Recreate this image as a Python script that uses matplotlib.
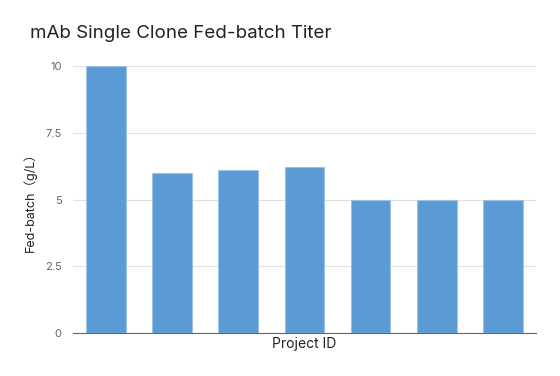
import matplotlib
matplotlib.use('Agg')
import matplotlib.pyplot as plt
import numpy as np

plt.rcParams['font.family'] = ['Inter', 'Noto Sans CJK SC', 'DejaVu Sans']

projects = ['P1', 'P2', 'P3', 'P4', 'P5', 'P6', 'P7']
titer = [10, 6.0, 6.1, 6.2, 5.0, 5.0, 5.0]
yticks = [0, 2.5, 5, 7.5, 10]
ytick_labels = ['0', '2.5', '5', '7.5', '10']

fig = plt.figure(figsize=(5.6, 3.76), dpi=100)
ax = fig.add_axes([0.130, 0.1144, 0.827, 0.710])

x = np.arange(len(projects))
ax.bar(x, titer, width=0.6, color='#5b9bd5', edgecolor='#9cc3e6', linewidth=0.8, zorder=3)

ax.set_xlim(-0.5, len(projects) - 0.5)
ax.set_ylim(0, 10)
ax.set_yticks(yticks)
ax.set_yticklabels(ytick_labels)
ax.set_xticks([])
ax.grid(axis='y', color='#e0e0e0', linewidth=0.8, zorder=0)
for s in ['top', 'right', 'left']:
    ax.spines[s].set_visible(False)
ax.spines['bottom'].set_color('#666666')
ax.tick_params(axis='y', length=0, labelsize=8, labelcolor='#666666', pad=8)

ax.set_xlabel('Project ID', fontsize=10, color='#222222', labelpad=3)
ax.set_ylabel('Fed-batch（g/L）', fontsize=9, color='#222222', labelpad=6)
fig.text(0.054, 0.91, 'mAb Single Clone Fed-batch Titer', fontsize=13.5, color='#222222', va='center')

plt.savefig('out.png', dpi=100)
